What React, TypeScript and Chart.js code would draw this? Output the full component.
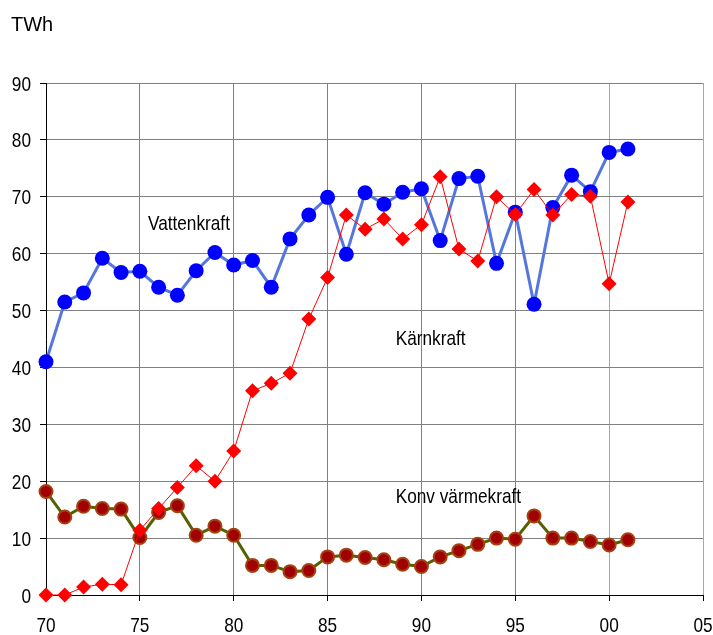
import React, { useEffect, useRef } from "react";
import { Chart, registerables } from "chart.js";

Chart.register(...registerables);

const years = [70, 71, 72, 73, 74, 75, 76, 77, 78, 79, 80, 81, 82, 83, 84, 85, 86, 87, 88, 89, 90, 91, 92, 93, 94, 95, 96, 97, 98, 99, 100, 101];

const vattenkraft = [41.0, 51.5, 53.1, 59.2, 56.7, 56.9, 54.1, 52.7, 57.0, 60.2, 58.0, 58.8, 54.1, 62.6, 66.8, 69.9, 59.9, 70.7, 68.7, 70.8, 71.4, 62.3, 73.2, 73.6, 58.3, 67.3, 51.1, 68.1, 73.8, 70.9, 77.8, 78.4];

const karnkraft = [0.0, 0.0, 1.4, 1.9, 1.8, 11.4, 15.2, 18.9, 22.7, 20.0, 25.3, 35.9, 37.2, 39.0, 48.5, 55.8, 66.8, 64.3, 66.1, 62.6, 65.1, 73.5, 60.8, 58.7, 70.0, 66.9, 71.3, 66.8, 70.4, 70.1, 54.7, 69.1];

const konvVarmekraft = [18.2, 13.7, 15.6, 15.2, 15.1, 10.1, 14.5, 15.7, 10.5, 12.1, 10.5, 5.2, 5.2, 4.1, 4.3, 6.7, 7.0, 6.6, 6.2, 5.4, 5.0, 6.7, 7.8, 8.9, 10.0, 9.8, 13.9, 10.0, 10.0, 9.4, 8.8, 9.7];

const xTicks = [70, 75, 80, 85, 90, 95, 100, 105];
const yTicks = [0, 10, 20, 30, 40, 50, 60, 70, 80, 90];

const unitLabel = "TWh";
const annotations = [
  { text: "Vattenkraft", x: 75.43, y: 64.15 },
  { text: "Kärnkraft", x: 88.63, y: 43.9 },
  { text: "Konv värmekraft", x: 88.63, y: 16.2 },
];

const BASE_FONT = "'Liberation Sans', Arial, sans-serif";
const NARROW_SCALE = 0.82;
const xLabel = (v: number) => String(v % 100).padStart(2, "0");

const toPoints = (vals: number[]) => vals.map((v, i) => ({ x: years[i], y: v }));

export default function App() {
  const ref = useRef<HTMLCanvasElement | null>(null);

  useEffect(() => {
    document.body.style.margin = "0";
    const canvas = ref.current;
    if (!canvas) return;

    const drawNarrow = (ctx: any, text: string, x: number, y: number, align: string) => {
      ctx.save();
      ctx.translate(x, y);
      ctx.scale(NARROW_SCALE, 1);
      ctx.textAlign = align;
      ctx.fillText(text, 0, 0);
      ctx.restore();
    };

    const textPlugin = {
      id: "textPlugin",
      afterDraw(chart: any) {
        const ctx = chart.ctx;
        const xs = chart.scales.x;
        const ys = chart.scales.y;
        ctx.save();
        ctx.fillStyle = "#000";
        ctx.textBaseline = "alphabetic";
        ctx.textAlign = "left";
        ctx.font = "20px " + BASE_FONT;
        ctx.fillText(unitLabel, 11, 31);
        ctx.font = "21px " + BASE_FONT;
        // y tick labels
        ys.ticks.forEach((t: any) => {
          drawNarrow(ctx, String(t.value), 31, ys.getPixelForValue(t.value) + 7.5, "right");
        });
        // x tick labels
        xs.ticks.forEach((t: any) => {
          drawNarrow(ctx, xLabel(t.value), xs.getPixelForValue(t.value), 632, "center");
        });
        annotations.forEach((a) => {
          drawNarrow(ctx, a.text, xs.getPixelForValue(a.x), ys.getPixelForValue(a.y), "left");
        });
        ctx.restore();
      },
    };

    const chart = new Chart(canvas, {
      type: "line",
      data: {
        datasets: [
          {
            label: "Kärnkraft",
            data: toPoints(karnkraft),
            borderColor: "#ff0000",
            backgroundColor: "#ff0000",
            borderWidth: 1,
            pointStyle: "rectRot",
            pointRadius: 7.5,
            pointBorderWidth: 0,
            pointBackgroundColor: "#ff0000",
            pointBorderColor: "#ff0000",
            tension: 0,
            clip: false,
          } as any,
          {
            label: "Konv värmekraft",
            data: toPoints(konvVarmekraft),
            borderColor: "#556000",
            backgroundColor: "#a00000",
            borderWidth: 3,
            pointStyle: "circle",
            pointRadius: 6.5,
            pointBorderWidth: 2,
            pointBackgroundColor: "#a00000",
            pointBorderColor: "#a5400f",
            tension: 0,
            clip: false,
          } as any,
          {
            label: "Vattenkraft",
            data: toPoints(vattenkraft),
            borderColor: "#5577dd",
            backgroundColor: "#0000ff",
            borderWidth: 3,
            pointStyle: "circle",
            pointRadius: 7.5,
            pointBorderWidth: 0,
            pointBackgroundColor: "#0000ff",
            pointBorderColor: "#0000ff",
            tension: 0,
            clip: false,
          } as any,
        ],
      },
      options: {
        animation: false,
        responsive: false,
        maintainAspectRatio: false,
        layout: { padding: { top: 83, right: 10, left: 0, bottom: 0 } },
        plugins: {
          legend: { display: false },
          tooltip: { enabled: false },
        },
        scales: {
          x: {
            type: "linear",
            min: 70,
            max: 105,
            afterFit: (s: any) => {
              s.height = 40;
              s.paddingLeft = 0;
              s.paddingRight = 0;
            },
            afterBuildTicks: (s: any) => {
              s.ticks = xTicks.map((v) => ({ value: v }));
            },
            ticks: {
              display: false,
              autoSkip: false,
            },
            grid: {
              color: (c: any) => (c.tick && c.tick.value >= 100 ? "#a8a8a8" : "#808080"),
              tickColor: "#000",
              tickLength: 6,
              lineWidth: 1,
              drawTicks: true,
            },
            border: { color: "#000", width: 1 },
          },
          y: {
            type: "linear",
            min: 0,
            max: 90,
            afterFit: (s: any) => {
              s.width = 46;
              s.paddingTop = 0;
              s.paddingBottom = 0;
            },
            afterBuildTicks: (s: any) => {
              s.ticks = yTicks.map((v) => ({ value: v }));
            },
            ticks: {
              display: false,
              autoSkip: false,
            },
            grid: {
              color: "#808080",
              tickColor: "#000",
              tickLength: 6,
              lineWidth: 1,
              drawTicks: true,
            },
            border: { color: "#000", width: 1 },
          },
        },
      },
      plugins: [textPlugin],
    });

    return () => chart.destroy();
  }, []);

  return <canvas ref={ref} width={713} height={635} style={{ display: "block" }} />;
}
